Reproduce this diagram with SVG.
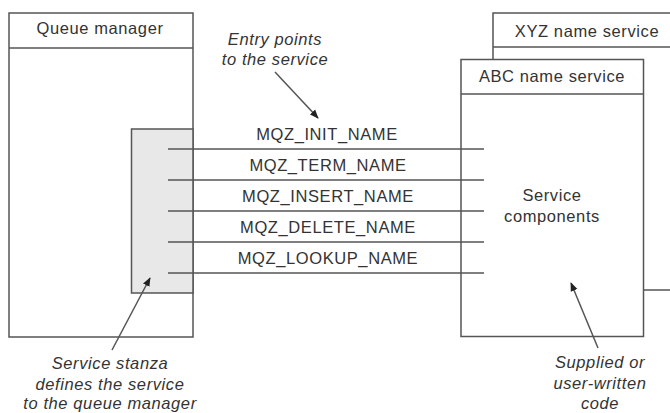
<svg xmlns="http://www.w3.org/2000/svg" width="670" height="413" viewBox="0 0 670 413">
<style>
.box{fill:#fff;stroke:#555;stroke-width:1.5}
.ln{stroke:#555;stroke-width:1.5;fill:none}
.t{font-family:"Liberation Sans",Arial,sans-serif;font-size:16.5px;letter-spacing:0.6px;fill:#333;text-anchor:middle}
.i{font-style:italic}
</style>
<defs>
<marker id="ah" viewBox="0 0 10 10" refX="9" refY="5" markerWidth="9" markerHeight="9" markerUnits="userSpaceOnUse" orient="auto">
<path d="M0,1 L10,5 L0,9 z" fill="#222"/>
</marker>
</defs>
<g id="xyz">
<rect class="box" x="493" y="13" width="200" height="277"/>
<line class="ln" x1="493" y1="47" x2="670" y2="47"/>
<text class="t" x="587" y="37">XYZ name service</text>
</g>
<g id="queue-manager">
<rect class="box" x="9" y="13" width="184" height="324"/>
<line class="ln" x1="9" y1="48" x2="193" y2="48"/>
<text class="t" x="100" y="34">Queue manager</text>
</g>
<g id="service-stanza">
<rect x="131.5" y="129" width="61.5" height="164" fill="#e8e8e8" stroke="#555" stroke-width="1.5"/>
</g>
<g id="abc">
<rect class="box" x="461" y="59.5" width="182.5" height="277"/>
<line class="ln" x1="461" y1="94" x2="643.5" y2="94"/>
<text class="t" x="552" y="82">ABC name service</text>
<text class="t" x="552" y="201">Service</text>
<text class="t" x="552" y="222">components</text>
</g>
<g id="connectors">
<line class="ln" x1="168" y1="149" x2="484" y2="149"/>
<line class="ln" x1="168" y1="180" x2="484" y2="180"/>
<line class="ln" x1="168" y1="211" x2="484" y2="211"/>
<line class="ln" x1="168" y1="242" x2="484" y2="242"/>
<line class="ln" x1="168" y1="273" x2="484" y2="273"/>
<line class="ln" x1="275" y1="72" x2="318" y2="118" marker-end="url(#ah)"/>
<line class="ln" x1="112" y1="350" x2="150" y2="278" marker-end="url(#ah)"/>
<line class="ln" x1="598" y1="348" x2="571" y2="283" marker-end="url(#ah)"/>
</g>
<g id="labels">
<text class="t" x="327" y="140">MQZ_INIT_NAME</text>
<text class="t" x="328" y="171">MQZ_TERM_NAME</text>
<text class="t" x="328" y="202">MQZ_INSERT_NAME</text>
<text class="t" x="328" y="233">MQZ_DELETE_NAME</text>
<text class="t" x="328" y="264">MQZ_LOOKUP_NAME</text>
<text class="t i" x="275" y="45">Entry points</text>
<text class="t i" x="275" y="65">to the service</text>
<text class="t i" x="110" y="369">Service stanza</text>
<text class="t i" x="110" y="390">defines the service</text>
<text class="t i" x="110" y="409">to the queue manager</text>
<text class="t i" x="600" y="368">Supplied or</text>
<text class="t i" x="600" y="389">user-written</text>
<text class="t i" x="600" y="409">code</text>
</g>
</svg>
